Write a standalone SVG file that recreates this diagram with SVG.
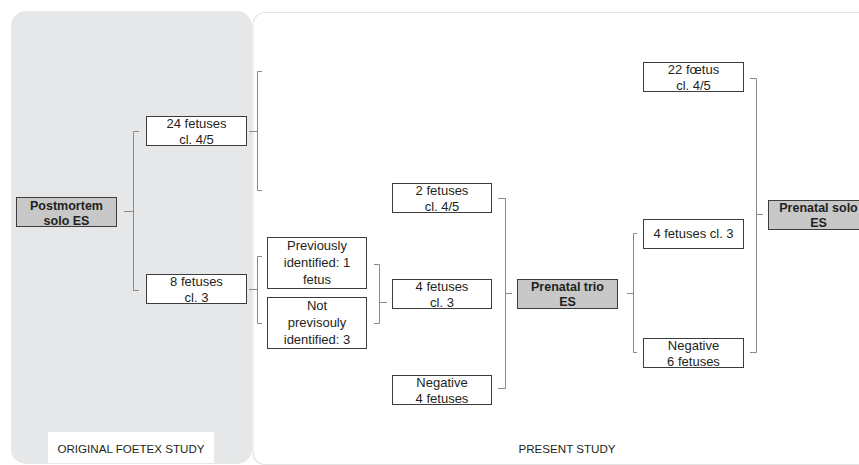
<svg xmlns="http://www.w3.org/2000/svg" width="859" height="465" viewBox="0 0 859 465">
<style>
.panel-l{fill:#e6e7e8;stroke:none}
.panel-r{fill:#ffffff;stroke:#e4e4e4;stroke-width:1.2}
.box{fill:#ffffff;stroke:#3c3c3c;stroke-width:1}
.gbox{fill:#c8c8c8;stroke:#3c3c3c;stroke-width:1}
.conn{fill:none;stroke:#8a8a8a;stroke-width:1}
text{font-family:"Liberation Sans",Arial,sans-serif;fill:#231f20;text-anchor:middle}
.t{font-size:13px}
.b{font-size:12.5px;font-weight:bold}
.lab{font-size:11.6px}
</style>
<rect class="panel-l" x="11" y="11" width="241" height="453" rx="15"/>
<rect class="panel-r" x="253" y="12.5" width="630" height="452" rx="12"/>
<g id="label-original">
<rect x="48" y="432" width="166" height="31" fill="#ffffff"/>
<text class="lab" x="131" y="453">ORIGINAL FOETEX STUDY</text>
</g>
<g id="label-present">
<text class="lab" x="567" y="453">PRESENT STUDY</text>
</g>
<g id="connectors">
<path class="conn" d="M124,211.5H133.5M139,131.5H133.5V290.5H139"/>
<path class="conn" d="M249,131.5H257.5M262,71.5H257.5V190.5H262"/>
<path class="conn" d="M249,289.5H257.5M262,256.5H257.5V323.5H262"/>
<path class="conn" d="M374,264.5H379.5V323.5H374M379.5,302.5H387"/>
<path class="conn" d="M498,198.5H505.5V388.5H498M505.5,293.5H512"/>
<path class="conn" d="M627,293.5H633.5M637,233.5H633.5V352.5H637"/>
<path class="conn" d="M750,78.5H756.5V352.5H750M756.5,214.5H763"/>
</g>
<g id="postmortem">
<rect class="gbox" x="16.5" y="197.5" width="100" height="29"/>
<text class="b" x="66.5" y="210">Postmortem</text>
<text class="b" x="66.5" y="225">solo ES</text>
</g>
<g id="pm-24">
<rect class="box" x="146.5" y="116.5" width="100" height="29"/>
<text class="t" x="196.5" y="128">24 fetuses</text>
<text class="t" x="196.5" y="144">cl. 4/5</text>
</g>
<g id="pm-8">
<rect class="box" x="146.5" y="274.5" width="100" height="29"/>
<text class="t" x="196.5" y="286">8 fetuses</text>
<text class="t" x="196.5" y="302">cl. 3</text>
</g>
<g id="prev-identified">
<rect class="box" x="267.5" y="237.5" width="99" height="51"/>
<text class="t" x="317" y="250">Previously</text>
<text class="t" x="317" y="267">identified: 1</text>
<text class="t" x="317" y="284">fetus</text>
</g>
<g id="not-prev-identified">
<rect class="box" x="267.5" y="297.5" width="99" height="51"/>
<text class="t" x="317" y="310">Not</text>
<text class="t" x="317" y="327">previsouly</text>
<text class="t" x="317" y="344">identified: 3</text>
</g>
<g id="trio-2">
<rect class="box" x="392.5" y="183.5" width="99" height="29"/>
<text class="t" x="442" y="195">2 fetuses</text>
<text class="t" x="442" y="211">cl. 4/5</text>
</g>
<g id="trio-4">
<rect class="box" x="392.5" y="279.5" width="99" height="29"/>
<text class="t" x="442" y="291">4 fetuses</text>
<text class="t" x="442" y="307">cl. 3</text>
</g>
<g id="trio-neg">
<rect class="box" x="392.5" y="375.5" width="99" height="29"/>
<text class="t" x="442" y="387">Negative</text>
<text class="t" x="442" y="403">4 fetuses</text>
</g>
<g id="prenatal-trio">
<rect class="gbox" x="517.5" y="279.5" width="100" height="29"/>
<text class="b" x="567.5" y="291">Prenatal trio</text>
<text class="b" x="567.5" y="306">ES</text>
</g>
<g id="solo-22">
<rect class="box" x="643.5" y="62.5" width="100" height="29"/>
<text class="t" x="693.5" y="74">22 fœtus</text>
<text class="t" x="693.5" y="90">cl. 4/5</text>
</g>
<g id="solo-4">
<rect class="box" x="643.5" y="219.5" width="100" height="29"/>
<text class="t" x="693.5" y="238">4 fetuses cl. 3</text>
</g>
<g id="solo-neg">
<rect class="box" x="643.5" y="338.5" width="100" height="29"/>
<text class="t" x="693.5" y="350">Negative</text>
<text class="t" x="693.5" y="366">6 fetuses</text>
</g>
<g id="prenatal-solo">
<rect class="gbox" x="768.5" y="200.5" width="100" height="29"/>
<text class="b" x="818.5" y="212">Prenatal solo</text>
<text class="b" x="818.5" y="227">ES</text>
</g>
</svg>
